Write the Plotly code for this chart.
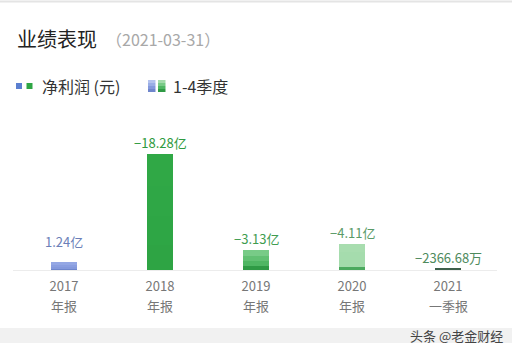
import plotly.graph_objects as go

# ---- data ----
periods = ["2017", "2018", "2019", "2020", "2021"]
period_types = ["年报", "年报", "年报", "年报", "一季报"]
net_profit_labels = ["1.24亿", "−18.28亿", "−3.13亿", "−4.11亿", "−2366.68万"]
net_profit_abs = [1.24, 18.28, 3.13, 4.11, 0.236668]  # 亿元, absolute
# quarterly breakdown (亿元, absolute)
q1 = [0.22, 4.00, 0.60, 0.45, 0.236668]
q2 = [0.30, 4.50, 0.80, 1.20, 0.0]
q3 = [0.30, 4.80, 0.85, 1.20, 0.0]
q4 = [0.42, 4.98, 0.88, 1.26, 0.0]

# ---- styles ----
W, H = 512, 351
L, R, T, B = 16, 16, 110, 81
plot_h = H - T - B
px_per_unit = 6.35
FONT = "Noto Sans CJK SC"

q_colors = [
    ["#6f86cc", "#2ea444", "#2f9a45", "#4ba95e", "#3d5f4a"],
    ["#8499dc", "#2ea645", "#4fb663", "#a3dbab", "#3d5f4a"],
    ["#8a9ee0", "#2fa746", "#62c073", "#a5dcad", "#3d5f4a"],
    ["#94a7e4", "#30a846", "#78cb87", "#a8ddaf", "#3d5f4a"],
]
label_colors = ["#6b7fb8", "#2e9a40", "#3f9c50", "#5a9a66", "#4e8a5c"]
label_shift = {"2017": 9}

# unique non-numeric category keys (so the axis stays categorical)
cats = [p + t for p, t in zip(periods, period_types)]


def pxx(x):
    return (x - L) / (W - L - R)


def pyy(y):
    return (H - B - y) / plot_h


fig = go.Figure()
for qi, qv in enumerate([q1, q2, q3, q4]):
    fig.add_trace(go.Bar(
        x=cats, y=qv, marker=dict(color=q_colors[qi], line=dict(width=0)),
        hoverinfo="skip", showlegend=False,
    ))

annotations = []
for i, (p, tot, lab, col) in enumerate(zip(periods, net_profit_abs, net_profit_labels, label_colors)):
    annotations.append(dict(
        x=cats[i], y=tot, xref="x", yref="y", text=lab, showarrow=False,
        yanchor="bottom", yshift=label_shift.get(p, 0),
        font=dict(family=FONT, size=13, color=col),
    ))
    # second line of the category label
    annotations.append(dict(
        x=cats[i], y=0, xref="x", yref="y", text=period_types[i], showarrow=False,
        yanchor="middle", yshift=-35,
        font=dict(family=FONT, size=13, color="#777777"),
    ))

# title
annotations.append(dict(x=pxx(15), y=pyy(39), xref="paper", yref="paper",
                        xanchor="left", yanchor="middle", showarrow=False,
                        text="业绩表现", font=dict(family=FONT, size=20, color="#222222")))
annotations.append(dict(x=pxx(104), y=pyy(39), xref="paper", yref="paper",
                        xanchor="left", yanchor="middle", showarrow=False,
                        text="（2021-03-31）", font=dict(family=FONT, size=16, color="#a8a8a8")))
# legend texts
annotations.append(dict(x=pxx(40), y=pyy(86), xref="paper", yref="paper",
                        xanchor="left", yanchor="middle", showarrow=False,
                        text="净利润 (元)", font=dict(family=FONT, size=16, color="#333333")))
annotations.append(dict(x=pxx(171), y=pyy(86), xref="paper", yref="paper",
                        xanchor="left", yanchor="middle", showarrow=False,
                        text="1-4季度", font=dict(family=FONT, size=16, color="#333333")))
# watermark
annotations.append(dict(x=pxx(505), y=pyy(335), xref="paper", yref="paper",
                        xanchor="right", yanchor="middle", showarrow=False,
                        text="头条 @老金财经", font=dict(family=FONT, size=13, color="#444444")))

shapes = []
# top thin line
shapes.append(dict(type="line", xref="paper", yref="paper", x0=pxx(0), x1=pxx(512),
                   y0=pyy(1.5), y1=pyy(1.5), line=dict(color="#e4e4e4", width=2)))
# bottom band
shapes.append(dict(type="rect", xref="paper", yref="paper", x0=pxx(0), x1=pxx(512),
                   y0=pyy(343), y1=pyy(328), fillcolor="#f1f1f1", line=dict(width=0), layer="below"))
# axis line
shapes.append(dict(type="line", xref="paper", yref="paper", x0=pxx(13), x1=pxx(497),
                   y0=pyy(270.5), y1=pyy(270.5), line=dict(color="#ececec", width=1)))
# legend squares
shapes.append(dict(type="rect", xref="paper", yref="paper", x0=pxx(16), x1=pxx(22),
                   y0=pyy(89), y1=pyy(83), fillcolor="#5b7fd0", line=dict(width=0)))
shapes.append(dict(type="rect", xref="paper", yref="paper", x0=pxx(26.5), x1=pxx(32.5),
                   y0=pyy(89), y1=pyy(83), fillcolor="#2ea645", line=dict(width=0)))
# legend gradient icons
blue_stripes = ["#6f86cc", "#8499dc", "#9aaee6", "#b3c2ee"]
green_stripes = ["#2f9a45", "#4fb663", "#78cb87", "#a3dbab"]
for i in range(4):
    y_bot = 92 - i * 3
    shapes.append(dict(type="rect", xref="paper", yref="paper", x0=pxx(148), x1=pxx(155.5),
                       y0=pyy(y_bot), y1=pyy(y_bot - 3), fillcolor=blue_stripes[i], line=dict(width=0)))
    shapes.append(dict(type="rect", xref="paper", yref="paper", x0=pxx(158), x1=pxx(165.5),
                       y0=pyy(y_bot), y1=pyy(y_bot - 3), fillcolor=green_stripes[i], line=dict(width=0)))

fig.update_layout(
    width=W, height=H, margin=dict(l=L, r=R, t=T, b=B),
    paper_bgcolor="white", plot_bgcolor="white",
    barmode="stack", bargap=0.72,
    annotations=annotations, shapes=shapes,
    font=dict(family=FONT),
    xaxis=dict(
        type="category",
        categoryorder="array", categoryarray=cats,
        tickvals=cats, ticktext=periods,
        range=[-0.5, len(cats) - 0.5],
        tickfont=dict(family=FONT, size=13, color="#777777"),
        ticklabelstandoff=7,
        showgrid=False, zeroline=False, showline=False, ticks="",
        fixedrange=True,
    ),
    yaxis=dict(range=[0, plot_h / px_per_unit], visible=False, fixedrange=True),
)

fig.write_html("out.html", config={"displayModeBar": False})
